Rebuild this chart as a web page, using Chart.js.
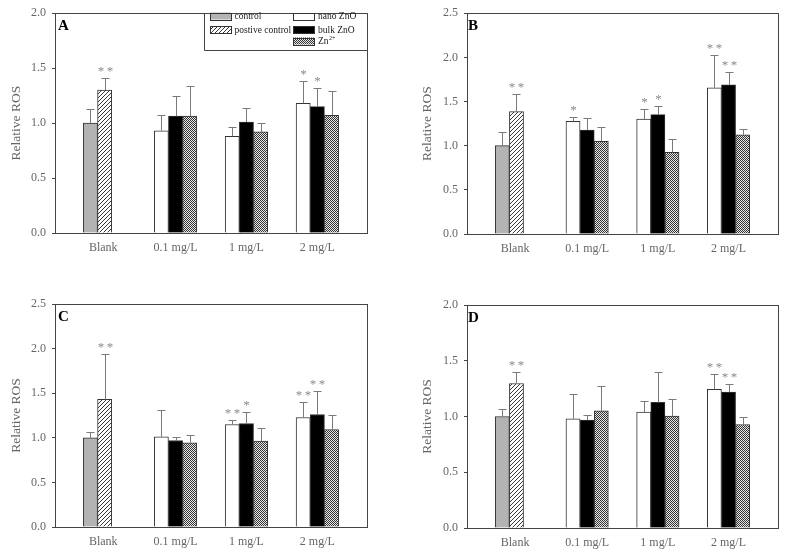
<!DOCTYPE html>
<html><head><meta charset="utf-8">
<script src="https://cdn.jsdelivr.net/npm/chart.js@4.4.1/dist/chart.umd.min.js"></script>
<style>
html,body{margin:0;padding:0;background:#fff;}
#wrap{position:relative;width:787px;height:557px;overflow:hidden;background:#fff;}
canvas{position:absolute;}
</style></head><body><div id="wrap">
<canvas id="cA" width="390" height="278" style="left:0;top:0"></canvas>
<canvas id="cB" width="397" height="278" style="left:390px;top:0"></canvas>
<canvas id="cC" width="390" height="279" style="left:0;top:278px"></canvas>
<canvas id="cD" width="397" height="279" style="left:390px;top:278px"></canvas>
</div>
<script>
// ===== DATA =====
const groupLabels = ["Blank", "0.1 mg/L", "1 mg/L", "2 mg/L"];
const seriesNames = ["control", "postive control", "nano ZnO", "bulk ZnO", "Zn"];
const yTicksA = [0, 0.5, 1.0, 1.5, 2.0];
const yTicksB = [0, 0.5, 1.0, 1.5, 2.0, 2.5];
const yTicksC = [0, 0.5, 1.0, 1.5, 2.0, 2.5];
const yTicksD = [0, 0.5, 1.0, 1.5, 2.0];

// Panel A
const A_control = [1.00],  A_controlErr = [0.13];
const A_positive = [1.30], A_positiveErr = [0.11], A_positiveSig = ["**"];
const A_nano = [0.93, 0.88, 1.18],  A_nanoErr = [0.145, 0.085, 0.205], A_nanoSig = ["", "", "*"];
const A_bulk = [1.065, 1.01, 1.15], A_bulkErr = [0.185, 0.13, 0.17],   A_bulkSig = ["", "", "*"];
const A_zn = [1.065, 0.92, 1.07],   A_znErr = [0.275, 0.08, 0.22],     A_znSig = ["", "", ""];

// Panel B
const B_control = [1.00],  B_controlErr = [0.15];
const B_positive = [1.385], B_positiveErr = [0.195], B_positiveSig = ["**"];
const B_nano = [1.275, 1.30, 1.655], B_nanoErr = [0.055, 0.12, 0.375], B_nanoSig = ["*", "*", "**"];
const B_bulk = [1.177, 1.352, 1.69], B_bulkErr = [0.135, 0.093, 0.14], B_bulkSig = ["", "*", "**"];
const B_zn = [1.05, 0.926, 1.124],   B_znErr = [0.165, 0.15, 0.06],    B_znSig = ["", "", ""];

// Panel C
const C_control = [1.00],  C_controlErr = [0.06];
const C_positive = [1.43], C_positiveErr = [0.505], C_positiveSig = ["**"];
const C_nano = [1.011, 1.149, 1.228], C_nanoErr = [0.30, 0.056, 0.175], C_nanoSig = ["", "**", "**"];
const C_bulk = [0.97, 1.16, 1.261],   C_bulkErr = [0.034, 0.124, 0.265], C_bulkSig = ["", "*", "**"];
const C_zn = [0.944, 0.963, 1.093],   C_znErr = [0.082, 0.145, 0.168],  C_znSig = ["", "", ""];

// Panel D
const D_control = [1.00],  D_controlErr = [0.063];
const D_positive = [1.296], D_positiveErr = [0.107], D_positiveSig = ["**"];
const D_nano = [0.979, 1.039, 1.243], D_nanoErr = [0.221, 0.099, 0.14], D_nanoSig = ["", "", "**"];
const D_bulk = [0.967, 1.126, 1.219], D_bulkErr = [0.042, 0.272, 0.074], D_bulkSig = ["", "", "**"];
const D_zn = [1.05, 1.003, 0.928],    D_znErr = [0.222, 0.153, 0.069],  D_znSig = ["", "", ""];

// ===== LAYOUT (positions on the slot axis) =====
const controlSlot = [0], positiveSlot = [1];
const nanoSlots = [5, 10, 15], bulkSlots = [6, 11, 16], znSlots = [7, 12, 17];
const groupTickPos = [0.9, 6, 11, 16];
const slotMin = -2.5, slotMax = 19.5;

const FONT = '"Liberation Serif", "Times New Roman", serif';

function makeHatch() {
  const c = document.createElement('canvas'); c.width = 4; c.height = 4;
  const g = c.getContext('2d');
  g.fillStyle = '#fff'; g.fillRect(0, 0, 4, 4);
  g.strokeStyle = '#3a3a3a'; g.lineWidth = 1;
  g.beginPath();
  g.moveTo(0, 4); g.lineTo(4, 0);
  g.moveTo(-1, 1); g.lineTo(1, -1);
  g.moveTo(3, 5); g.lineTo(5, 3);
  g.stroke();
  return g.createPattern(c, 'repeat');
}
function makeChecker() {
  const c = document.createElement('canvas'); c.width = 2; c.height = 2;
  const g = c.getContext('2d');
  g.fillStyle = '#e8e8e8'; g.fillRect(0, 0, 2, 2);
  g.fillStyle = '#333'; g.fillRect(0, 0, 1, 1); g.fillRect(1, 1, 1, 1);
  return g.createPattern(c, 'repeat');
}
const hatch = makeHatch();
const checker = makeChecker();
const fills = ['#b3b3b3', hatch, '#ffffff', '#000000', checker];

function drawStars(ctx, s, x, yCap) {
  ctx.font = '13px ' + FONT;
  ctx.fillStyle = '#8a8a8a';
  ctx.textAlign = 'center';
  ctx.textBaseline = 'alphabetic';
  const n = s.length, gap = 9;
  for (let k = 0; k < n; k++) {
    const xx = x + (k - (n - 1) / 2) * gap;
    ctx.fillText('*', xx, yCap - 3.5);
  }
}

const errorPlugin = {
  id: 'errs',
  afterDatasetsDraw(chart) {
    const ctx = chart.ctx, ys = chart.scales.y;
    ctx.save();
    chart.data.datasets.forEach((ds, di) => {
      const meta = chart.getDatasetMeta(di);
      meta.data.forEach((bar, i) => {
        const v = ds.data[i].y, e = ds.errors[i];
        const x = Math.round(bar.x) + 0.5;
        const yTop = ys.getPixelForValue(v);
        const yE = Math.round(ys.getPixelForValue(v + e)) + 0.5;
        ctx.strokeStyle = '#7a7a7a'; ctx.lineWidth = 1;
        ctx.beginPath();
        ctx.moveTo(x, yTop); ctx.lineTo(x, yE);
        ctx.moveTo(x - 4, yE); ctx.lineTo(x + 4, yE);
        ctx.stroke();
        const s = ds.sig && ds.sig[i];
        if (s) drawStars(ctx, s, x, yE);
      });
    });
    ctx.restore();
  }
};

const framePlugin = {
  id: 'frame',
  afterDraw(chart, args, opts) {
    const {ctx, chartArea: a} = chart;
    ctx.save();
    ctx.strokeStyle = '#444'; ctx.lineWidth = 1;
    ctx.beginPath();
    ctx.moveTo(a.left, Math.round(a.top) + 0.5); ctx.lineTo(a.right + 0.5, Math.round(a.top) + 0.5);
    ctx.moveTo(Math.round(a.right) + 0.5, a.top); ctx.lineTo(Math.round(a.right) + 0.5, a.bottom);
    ctx.stroke();
    ctx.font = 'bold 15px ' + FONT;
    ctx.fillStyle = '#000';
    ctx.textAlign = 'left'; ctx.textBaseline = 'alphabetic';
    ctx.fillText(opts.letter, a.left + opts.letterDx, a.top + 16.5);
    ctx.restore();
  }
};

const legendPlugin = {
  id: 'boxlegend',
  afterDraw(chart, args, opts) {
    if (!opts.show) return;
    const {ctx, chartArea: a} = chart;
    ctx.save();
    ctx.strokeStyle = '#444'; ctx.lineWidth = 1;
    const bx = 204.5, by = Math.round(a.top) + 0.5, bb = 50.5;
    ctx.beginPath();
    ctx.moveTo(bx, by); ctx.lineTo(bx, bb); ctx.lineTo(Math.round(a.right) + 0.5, bb);
    ctx.stroke();
    const items = [
      {i: 0, sx: 210, tx: 234.5, cy: 16},
      {i: 1, sx: 210, tx: 234.5, cy: 29.5},
      {i: 2, sx: 293, tx: 318, cy: 16},
      {i: 3, sx: 293, tx: 318, cy: 29.5},
      {i: 4, sx: 293, tx: 318, cy: 41}
    ];
    items.forEach(it => {
      ctx.fillStyle = fills[it.i];
      ctx.fillRect(it.sx, it.cy - 3.5, 21, 7);
      ctx.strokeStyle = '#333'; ctx.lineWidth = 1;
      ctx.strokeRect(it.sx + 0.5, Math.round(it.cy - 3.5) + 0.5, 21, 7);
      ctx.fillStyle = '#1a1a1a';
      ctx.font = '9.5px ' + FONT;
      ctx.textAlign = 'left'; ctx.textBaseline = 'middle';
      ctx.fillText(seriesNames[it.i], it.tx, it.cy + 0.5);
      if (it.i === 4) {
        const w = ctx.measureText(seriesNames[it.i]).width;
        ctx.font = '6px ' + FONT;
        ctx.fillText('2+', it.tx + w + 0.5, it.cy - 2.5);
      }
    });
    ctx.restore();
  }
};

function makeDatasets(p) {
  const mk = (vals, slots, errs, sig, k) => ({
    label: seriesNames[k],
    data: vals.map((v, i) => ({x: slots[i], y: v})),
    errors: errs, sig: sig,
    backgroundColor: fills[k],
    borderColor: '#333', borderWidth: 1,
    grouped: false, barPercentage: 1, categoryPercentage: 1
  });
  return [
    mk(p.control, controlSlot, p.controlErr, [], 0),
    mk(p.positive, positiveSlot, p.positiveErr, p.positiveSig, 1),
    mk(p.nano, nanoSlots, p.nanoErr, p.nanoSig, 2),
    mk(p.bulk, bulkSlots, p.bulkErr, p.bulkSig, 3),
    mk(p.zn, znSlots, p.znErr, p.znSig, 4)
  ];
}

function makeChart(canvasId, p, L) {
  const el = document.getElementById(canvasId);
  const W = el.width, H = el.height;
  const yMax = p.yTicks[p.yTicks.length - 1];
  return new Chart(el, {
    type: 'bar',
    data: {datasets: makeDatasets(p)},
    plugins: [errorPlugin, framePlugin, legendPlugin],
    options: {
      responsive: false, animation: false, devicePixelRatio: 1,
      layout: {padding: {left: 0, top: L.t, right: W - L.r, bottom: 0}},
      plugins: {
        legend: {display: false}, tooltip: {enabled: false},
        frame: {letter: p.letter, letterDx: L.letterDx},
        boxlegend: {show: !!L.legend}
      },
      scales: {
        x: {
          type: 'linear', min: slotMin, max: slotMax, offset: false,
          grid: {display: false, drawTicks: false},
          border: {display: true, color: '#444', width: 1},
          afterBuildTicks: s => { s.ticks = groupTickPos.map(v => ({value: v})); },
          afterFit: s => { s.height = H - L.b; },
          ticks: {
            autoSkip: false, maxRotation: 0, padding: 8,
            color: '#666', font: {family: FONT, size: 12},
            callback: (v, i) => groupLabels[i]
          }
        },
        y: {
          min: 0, max: yMax,
          grid: {display: true, drawOnChartArea: false, drawTicks: true, tickLength: 3, color: '#444'},
          border: {display: true, color: '#444', width: 1},
          afterBuildTicks: s => { s.ticks = p.yTicks.map(v => ({value: v})); },
          afterFit: s => { s.width = L.l; },
          ticks: {
            padding: 6, color: '#666', font: {family: FONT, size: 12},
            callback: v => Number(v).toFixed(1)
          },
          title: {
            display: true, text: 'Relative ROS', color: '#666',
            font: {family: FONT, size: 13.5},
            padding: {top: L.titleX - 8.1, bottom: 0}
          }
        }
      }
    }
  });
}

const panelA = {letter: 'A', yTicks: yTicksA, control: A_control, controlErr: A_controlErr, positive: A_positive, positiveErr: A_positiveErr, positiveSig: A_positiveSig, nano: A_nano, nanoErr: A_nanoErr, nanoSig: A_nanoSig, bulk: A_bulk, bulkErr: A_bulkErr, bulkSig: A_bulkSig, zn: A_zn, znErr: A_znErr, znSig: A_znSig};
const panelB = {letter: 'B', yTicks: yTicksB, control: B_control, controlErr: B_controlErr, positive: B_positive, positiveErr: B_positiveErr, positiveSig: B_positiveSig, nano: B_nano, nanoErr: B_nanoErr, nanoSig: B_nanoSig, bulk: B_bulk, bulkErr: B_bulkErr, bulkSig: B_bulkSig, zn: B_zn, znErr: B_znErr, znSig: B_znSig};
const panelC = {letter: 'C', yTicks: yTicksC, control: C_control, controlErr: C_controlErr, positive: C_positive, positiveErr: C_positiveErr, positiveSig: C_positiveSig, nano: C_nano, nanoErr: C_nanoErr, nanoSig: C_nanoSig, bulk: C_bulk, bulkErr: C_bulkErr, bulkSig: C_bulkSig, zn: C_zn, znErr: C_znErr, znSig: C_znSig};
const panelD = {letter: 'D', yTicks: yTicksD, control: D_control, controlErr: D_controlErr, positive: D_positive, positiveErr: D_positiveErr, positiveSig: D_positiveSig, nano: D_nano, nanoErr: D_nanoErr, nanoSig: D_nanoSig, bulk: D_bulk, bulkErr: D_bulkErr, bulkSig: D_bulkSig, zn: D_zn, znErr: D_znErr, znSig: D_znSig};

makeChart('cA', panelA, {l: 55, r: 367, t: 11, b: 233, titleX: 16.5, letterDx: 3, legend: true});
makeChart('cB', panelB, {l: 77, r: 388, t: 11, b: 234, titleX: 37.5, letterDx: 1});
makeChart('cC', panelC, {l: 55, r: 367, t: 26, b: 249, titleX: 16.5, letterDx: 3});
makeChart('cD', panelD, {l: 77, r: 388, t: 27, b: 250, titleX: 37.5, letterDx: 1});
</script>
</body></html>
